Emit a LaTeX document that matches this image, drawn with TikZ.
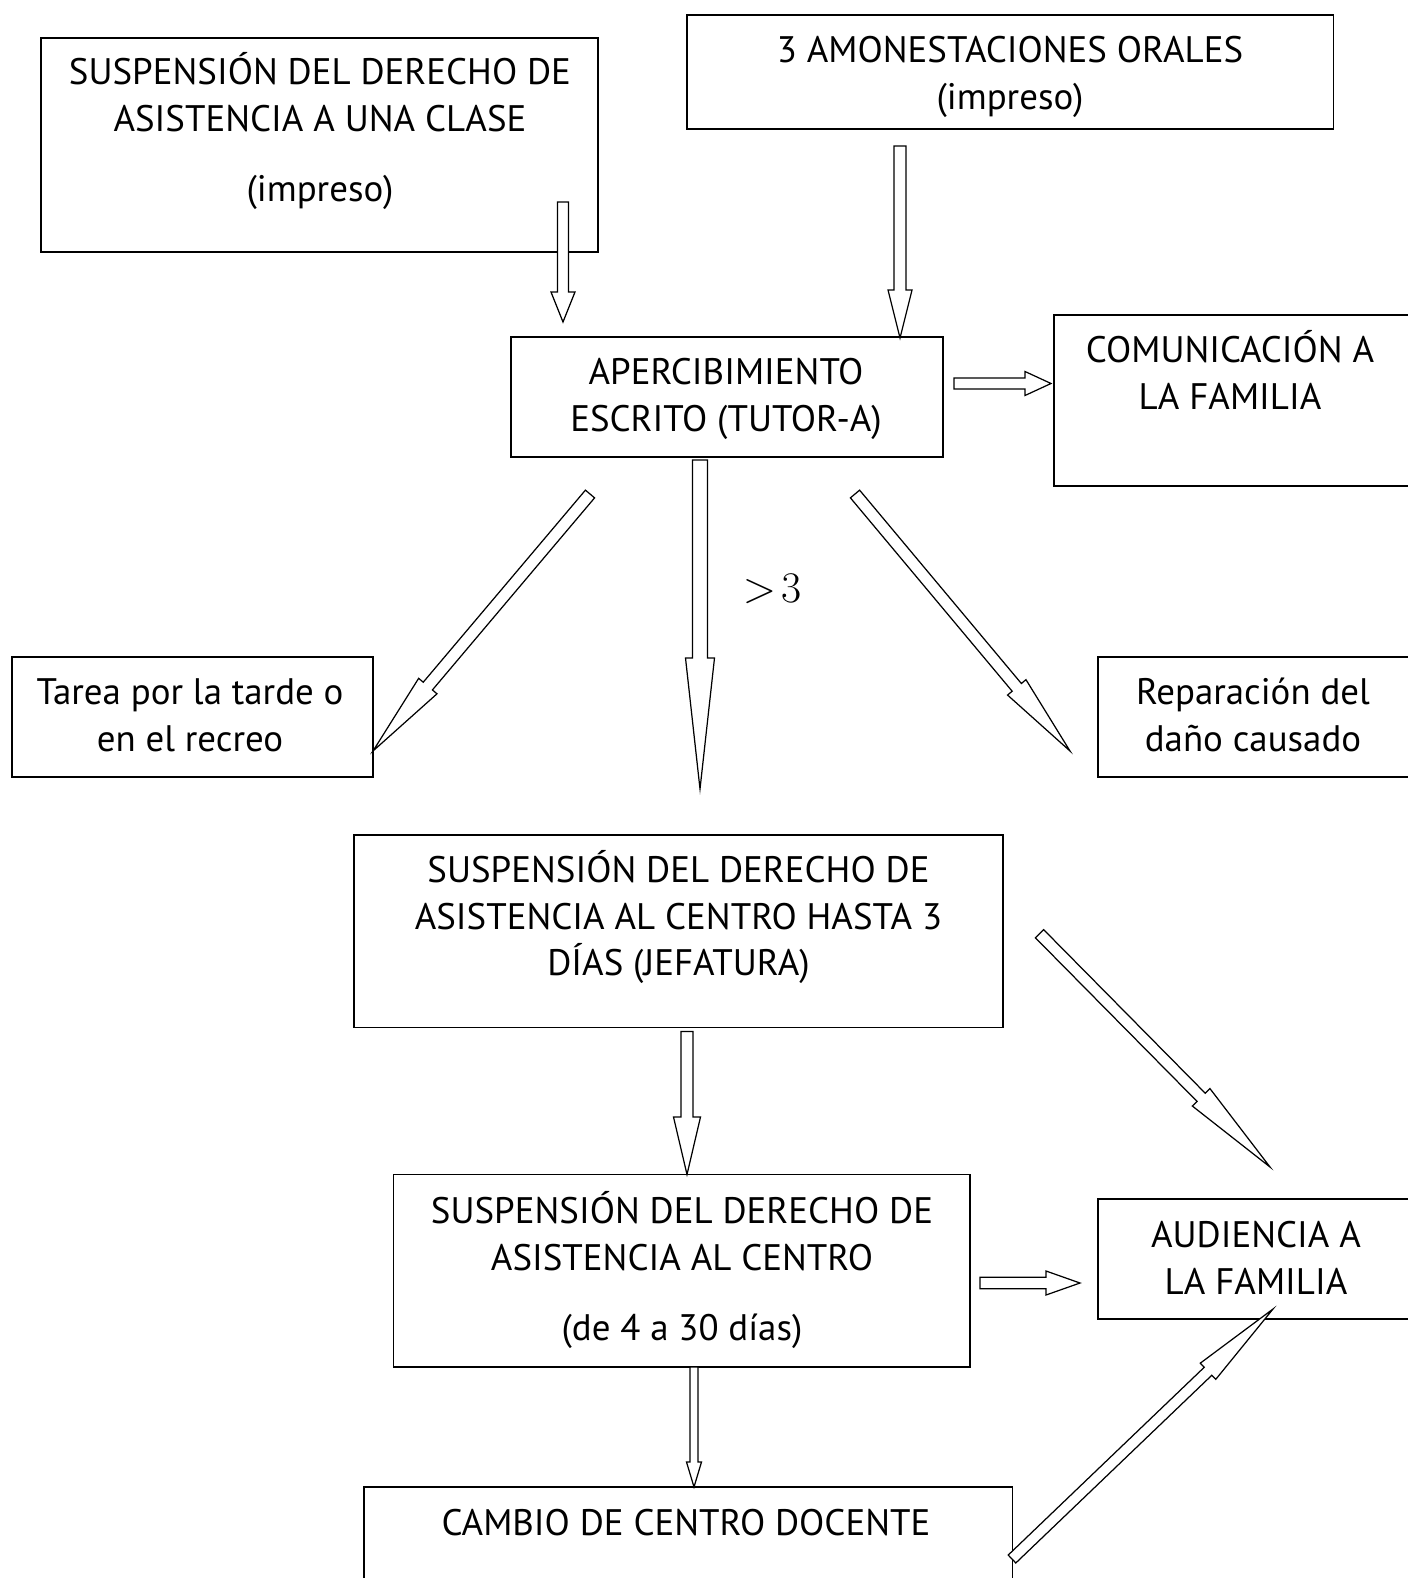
\documentclass[tikz,border=0pt]{standalone}
\usepackage[no-math]{fontspec}
\setmainfont{PT Sans}
\usetikzlibrary{calc}

\tikzset{
  caja/.style={draw, line width=0.9pt, inner sep=0pt},
  texto/.style={align=center, inner sep=0pt, font=\fontsize{21pt}{26.6pt}\selectfont},
  bloque/.style={draw, line width=0.7pt, line join=miter, fill=white},
}

\newcommand{\flecha}[5]{%
  \path (#1) coordinate (fa) (#2) coordinate (fb) ($(fb)!#5!(fa)$) coordinate (fh);
  \draw[bloque] ($(fa)!#3!90:(fb)$) -- ($(fh)!#3!90:(fb)$) -- ($(fh)!#4!90:(fb)$) -- (fb)
    -- ($(fh)!#4!-90:(fb)$) -- ($(fh)!#3!-90:(fb)$) -- ($(fa)!#3!-90:(fb)$) -- cycle;}

\begin{document}
\begin{tikzpicture}[x=0.02cm, y=-0.02cm]
\useasboundingbox (0,0) rectangle (1407,1578);
\fill[white] (0,0) rectangle (1407,1578);

\node[caja, minimum width=11.14cm, minimum height=4.28cm] (clase) at (319.5,145) {};
\node[texto] (tclase) at (320,131) {SUSPENSIÓN DEL DERECHO DE\\ASISTENCIA A UNA CLASE\\[0.454cm](impreso)};

\node[caja, minimum width=12.93cm, minimum height=2.28cm] (orales) at (1010.25,72) {};
\node[texto] (torales) at (1010,77) {3 AMONESTACIONES ORALES\\(impreso)};

\node[caja, minimum width=8.64cm, minimum height=2.4cm] (aperc) at (727,397) {};
\node[texto] (taperc) at (726,399) {APERCIBIMIENTO\\ESCRITO (TUTOR-A)};

\node[caja, minimum width=7.32cm, minimum height=3.42cm] (comunic) at (1237,400.5) {};
\node[texto] (tcomunic) at (1230,370) {COMUNICACIÓN A\\LA FAMILIA};

\node[caja, minimum width=7.22cm, minimum height=2.4cm] (tarea) at (192.5,717) {};
\node[texto] (ttarea) at (190,715) {Tarea por la tarde o\\en el recreo};

\node[caja, minimum width=6.44cm, minimum height=2.4cm] (repar) at (1259,717) {};
\node[texto] (trepar) at (1253,715) {Reparación del\\daño causado};

\node[mayor/.style={font=\fontsize{26pt}{32pt}\selectfont}, mayor] (mas) at (772,589) {$>\!3$};

\node[caja, minimum width=12.98cm, minimum height=3.85cm] (hasta) at (678.5,931.25) {};
\node[texto] (thasta) at (678.5,917) {SUSPENSIÓN DEL DERECHO DE\\ASISTENCIA AL CENTRO HASTA 3\\DÍAS (JEFATURA)};

\node[caja, minimum width=11.53cm, minimum height=3.85cm] (largo) at (681.75,1270.75) {};
\node[texto] (tlargo) at (682,1270) {SUSPENSIÓN DEL DERECHO DE\\ASISTENCIA AL CENTRO\\[0.454cm](de 4 a 30 días)};

\node[caja, minimum width=6.44cm, minimum height=2.4cm] (audien) at (1259,1259) {};
\node[texto] (taudien) at (1256,1258) {AUDIENCIA A\\LA FAMILIA};

\node[caja, minimum width=12.97cm, minimum height=2.66cm] (cambio) at (688.25,1553.5) {};
\node[texto] (tcambio) at (686,1523) {CAMBIO DE CENTRO DOCENTE};

\coordinate (sale1) at (563,202);      \coordinate (llega1) at (563,322);
\coordinate (sale2) at (900,146);      \coordinate (llega2) at (900,338);
\coordinate (sale3) at (954,383.5);    \coordinate (llega3) at (1051,383.5);
\coordinate (sale4) at (700,460);      \coordinate (llega4) at (700,789);
\coordinate (sale5) at (590,494);      \coordinate (llega5) at (373,751);
\coordinate (sale6) at (855,494);      \coordinate (llega6) at (1070,751);
\coordinate (sale7) at (1039.5,933.7); \coordinate (llega7) at (1270,1167);
\coordinate (sale8) at (687,1031.6);   \coordinate (llega8) at (687,1174.5);
\coordinate (sale9) at (980,1283);     \coordinate (llega9) at (1080,1283);
\coordinate (sale10) at (694,1367);    \coordinate (llega10) at (694,1487);
\coordinate (sale11) at (1012,1559);   \coordinate (llega11) at (1273,1309);

\flecha{sale1}{llega1}{0.11cm}{0.24cm}{0.6cm}
\flecha{sale2}{llega2}{0.12cm}{0.24cm}{0.96cm}
\flecha{sale3}{llega3}{0.11cm}{0.24cm}{0.52cm}
\flecha{sale4}{llega4}{0.15cm}{0.29cm}{2.62cm}
\flecha{sale5}{llega5}{0.12cm}{0.24cm}{1.7cm}
\flecha{sale6}{llega6}{0.12cm}{0.24cm}{1.66cm}
\flecha{sale7}{llega7}{0.116cm}{0.248cm}{1.96cm}
\flecha{sale8}{llega8}{0.12cm}{0.27cm}{1.15cm}
\flecha{sale9}{llega9}{0.114cm}{0.24cm}{0.68cm}
\flecha{sale10}{llega10}{0.08cm}{0.15cm}{0.5cm}
\flecha{sale11}{llega11}{0.11cm}{0.224cm}{1.8cm}
\end{tikzpicture}
\end{document}
